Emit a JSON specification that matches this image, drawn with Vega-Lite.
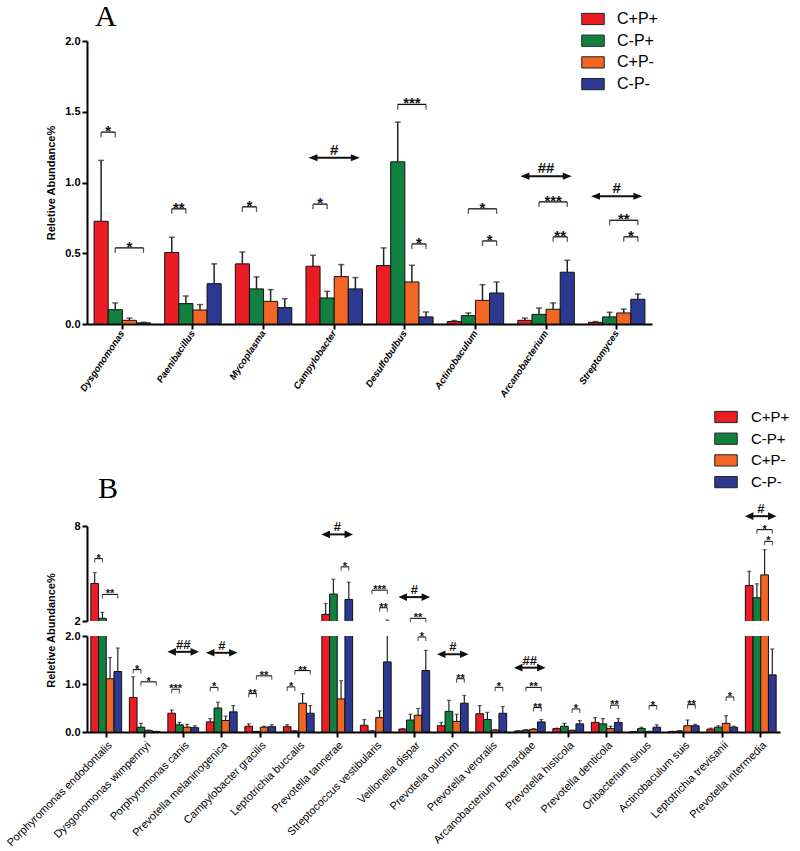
{
  "$schema": "https://vega.github.io/schema/vega-lite/v6.json",
  "padding": {"left": 4, "top": 2, "right": 5, "bottom": 3},
  "background": "white",
  "config": {
    "view": {"stroke": null},
    "font": "Liberation Sans",
    "axis": {"domainColor": "black", "domainWidth": 2, "tickColor": "black", "tickWidth": 2, "tickSize": 5, "labelColor": "black", "labelFont": "Liberation Sans", "labelFontWeight": "bold", "labelFontSize": 11, "titleFont": "Liberation Sans", "titleFontWeight": "bold", "titleFontSize": 11, "titleColor": "black", "grid": false},
    "legend": {"title": null, "orient": "none", "padding": 0, "labelFont": "Liberation Sans", "labelColor": "black", "symbolType": "M-1,-0.5H1V0.5H-1Z", "symbolSize": 506, "symbolStrokeColor": "#222", "symbolStrokeWidth": 1, "symbolOpacity": 1}
  },
  "datasets": {
    "a": [
      {"species": "Dysgonomonas", "group": "C+P+", "mean": 0.726, "upper": 1.156},
      {"species": "Dysgonomonas", "group": "C-P+", "mean": 0.101, "upper": 0.149},
      {"species": "Dysgonomonas", "group": "C+P-", "mean": 0.026, "upper": 0.042},
      {"species": "Dysgonomonas", "group": "C-P-", "mean": 0.008, "upper": 0.012},
      {"species": "Paenibacillus", "group": "C+P+", "mean": 0.505, "upper": 0.613},
      {"species": "Paenibacillus", "group": "C-P+", "mean": 0.144, "upper": 0.198},
      {"species": "Paenibacillus", "group": "C+P-", "mean": 0.099, "upper": 0.137},
      {"species": "Paenibacillus", "group": "C-P-", "mean": 0.285, "upper": 0.425},
      {"species": "Mycoplasma", "group": "C+P+", "mean": 0.425, "upper": 0.509},
      {"species": "Mycoplasma", "group": "C-P+", "mean": 0.248, "upper": 0.333},
      {"species": "Mycoplasma", "group": "C+P-", "mean": 0.160, "upper": 0.243},
      {"species": "Mycoplasma", "group": "C-P-", "mean": 0.116, "upper": 0.179},
      {"species": "Campylobacter", "group": "C+P+", "mean": 0.408, "upper": 0.486},
      {"species": "Campylobacter", "group": "C-P+", "mean": 0.184, "upper": 0.231},
      {"species": "Campylobacter", "group": "C+P-", "mean": 0.335, "upper": 0.420},
      {"species": "Campylobacter", "group": "C-P-", "mean": 0.248, "upper": 0.328},
      {"species": "Desulfobulbus", "group": "C+P+", "mean": 0.413, "upper": 0.538},
      {"species": "Desulfobulbus", "group": "C-P+", "mean": 1.146, "upper": 1.427},
      {"species": "Desulfobulbus", "group": "C+P-", "mean": 0.297, "upper": 0.415},
      {"species": "Desulfobulbus", "group": "C-P-", "mean": 0.050, "upper": 0.085},
      {"species": "Actinobaculum", "group": "C+P+", "mean": 0.017, "upper": 0.024},
      {"species": "Actinobaculum", "group": "C-P+", "mean": 0.059, "upper": 0.078},
      {"species": "Actinobaculum", "group": "C+P-", "mean": 0.167, "upper": 0.278},
      {"species": "Actinobaculum", "group": "C-P-", "mean": 0.219, "upper": 0.297},
      {"species": "Arcanobacterium", "group": "C+P+", "mean": 0.026, "upper": 0.042},
      {"species": "Arcanobacterium", "group": "C-P+", "mean": 0.068, "upper": 0.113},
      {"species": "Arcanobacterium", "group": "C+P-", "mean": 0.104, "upper": 0.149},
      {"species": "Arcanobacterium", "group": "C-P-", "mean": 0.366, "upper": 0.450},
      {"species": "Streptomyces", "group": "C+P+", "mean": 0.012, "upper": 0.017},
      {"species": "Streptomyces", "group": "C-P+", "mean": 0.050, "upper": 0.083},
      {"species": "Streptomyces", "group": "C+P-", "mean": 0.078, "upper": 0.106},
      {"species": "Streptomyces", "group": "C-P-", "mean": 0.175, "upper": 0.212}
    ],
    "aBr": [
      {"id": "a1", "species": "Dysgonomonas", "s1": 0, "s2": 1, "y": 1.356, "label": "*"},
      {"id": "a2", "species": "Dysgonomonas", "s1": 1, "s2": 3, "y": 0.538, "label": "*"},
      {"id": "a3", "species": "Paenibacillus", "s1": 0, "s2": 1, "y": 0.814, "label": "**"},
      {"id": "a4", "species": "Mycoplasma", "s1": 0, "s2": 1, "y": 0.828, "label": "*"},
      {"id": "a5", "species": "Campylobacter", "s1": 0, "s2": 1, "y": 0.847, "label": "*"},
      {"id": "a6", "species": "Desulfobulbus", "s1": 1, "s2": 3, "y": 1.552, "label": "***"},
      {"id": "a7", "species": "Desulfobulbus", "s1": 2, "s2": 3, "y": 0.566, "label": "*"},
      {"id": "a8", "species": "Actinobaculum", "s1": 1, "s2": 3, "y": 0.814, "label": "*"},
      {"id": "a9", "species": "Actinobaculum", "s1": 2, "s2": 3, "y": 0.587, "label": "*"},
      {"id": "a10", "species": "Arcanobacterium", "s1": 1, "s2": 3, "y": 0.863, "label": "***"},
      {"id": "a11", "species": "Arcanobacterium", "s1": 2, "s2": 3, "y": 0.616, "label": "**"},
      {"id": "a12", "species": "Streptomyces", "s1": 1, "s2": 3, "y": 0.733, "label": "**"},
      {"id": "a13", "species": "Streptomyces", "s1": 2, "s2": 3, "y": 0.616, "label": "*"}
    ],
    "aAr": [
      {"id": "r1", "species": "Campylobacter", "s1": 0, "s2": 3, "y": 1.175, "label": "#"},
      {"id": "r2", "species": "Arcanobacterium", "s1": 0, "s2": 3, "y": 1.045, "label": "##"},
      {"id": "r3", "species": "Streptomyces", "s1": 0, "s2": 3, "y": 0.903, "label": "#"}
    ],
    "b": [
      {"species": "Porphyromonas endodontalis", "group": "C+P+", "mean": 4.37, "upper": 5.06},
      {"species": "Porphyromonas endodontalis", "group": "C-P+", "mean": 2.17, "upper": 2.55},
      {"species": "Porphyromonas endodontalis", "group": "C+P-", "mean": 1.11, "upper": 1.55},
      {"species": "Porphyromonas endodontalis", "group": "C-P-", "mean": 1.26, "upper": 1.75},
      {"species": "Dysgonomonas wimpennyi", "group": "C+P+", "mean": 0.72, "upper": 1.15},
      {"species": "Dysgonomonas wimpennyi", "group": "C-P+", "mean": 0.10, "upper": 0.18},
      {"species": "Dysgonomonas wimpennyi", "group": "C+P-", "mean": 0.03, "upper": 0.04},
      {"species": "Dysgonomonas wimpennyi", "group": "C-P-", "mean": 0.01, "upper": 0.015},
      {"species": "Porphyromonas canis", "group": "C+P+", "mean": 0.39, "upper": 0.46},
      {"species": "Porphyromonas canis", "group": "C-P+", "mean": 0.15, "upper": 0.20},
      {"species": "Porphyromonas canis", "group": "C+P-", "mean": 0.10, "upper": 0.16},
      {"species": "Porphyromonas canis", "group": "C-P-", "mean": 0.09, "upper": 0.13},
      {"species": "Prevotella melaninogenica", "group": "C+P+", "mean": 0.21, "upper": 0.28},
      {"species": "Prevotella melaninogenica", "group": "C-P+", "mean": 0.50, "upper": 0.62},
      {"species": "Prevotella melaninogenica", "group": "C+P-", "mean": 0.24, "upper": 0.33},
      {"species": "Prevotella melaninogenica", "group": "C-P-", "mean": 0.42, "upper": 0.55},
      {"species": "Campylobacter gracilis", "group": "C+P+", "mean": 0.12, "upper": 0.17},
      {"species": "Campylobacter gracilis", "group": "C-P+", "mean": 0.01, "upper": 0.015},
      {"species": "Campylobacter gracilis", "group": "C+P-", "mean": 0.10, "upper": 0.12},
      {"species": "Campylobacter gracilis", "group": "C-P-", "mean": 0.11, "upper": 0.15},
      {"species": "Leptotrichia buccalis", "group": "C+P+", "mean": 0.11, "upper": 0.15},
      {"species": "Leptotrichia buccalis", "group": "C-P+", "mean": 0.02, "upper": 0.03},
      {"species": "Leptotrichia buccalis", "group": "C+P-", "mean": 0.60, "upper": 0.80},
      {"species": "Leptotrichia buccalis", "group": "C-P-", "mean": 0.39, "upper": 0.55},
      {"species": "Prevotella tannerae", "group": "C+P+", "mean": 2.42, "upper": 3.11},
      {"species": "Prevotella tannerae", "group": "C-P+", "mean": 3.70, "upper": 4.64},
      {"species": "Prevotella tannerae", "group": "C+P-", "mean": 0.69, "upper": 1.07},
      {"species": "Prevotella tannerae", "group": "C-P-", "mean": 3.36, "upper": 4.45},
      {"species": "Streptococcus vestibularis", "group": "C+P+", "mean": 0.14, "upper": 0.26},
      {"species": "Streptococcus vestibularis", "group": "C-P+", "mean": 0.02, "upper": 0.03},
      {"species": "Streptococcus vestibularis", "group": "C+P-", "mean": 0.30, "upper": 0.44},
      {"species": "Streptococcus vestibularis", "group": "C-P-", "mean": 1.46, "upper": 2.06},
      {"species": "Veillonella dispar", "group": "C+P+", "mean": 0.06, "upper": 0.07},
      {"species": "Veillonella dispar", "group": "C-P+", "mean": 0.25, "upper": 0.37},
      {"species": "Veillonella dispar", "group": "C+P-", "mean": 0.35, "upper": 0.49},
      {"species": "Veillonella dispar", "group": "C-P-", "mean": 1.28, "upper": 1.70},
      {"species": "Prevotella oulorum", "group": "C+P+", "mean": 0.13, "upper": 0.20},
      {"species": "Prevotella oulorum", "group": "C-P+", "mean": 0.43, "upper": 0.66},
      {"species": "Prevotella oulorum", "group": "C+P-", "mean": 0.22, "upper": 0.37},
      {"species": "Prevotella oulorum", "group": "C-P-", "mean": 0.60, "upper": 0.76},
      {"species": "Prevotella veroralis", "group": "C+P+", "mean": 0.38, "upper": 0.55},
      {"species": "Prevotella veroralis", "group": "C-P+", "mean": 0.26, "upper": 0.41},
      {"species": "Prevotella veroralis", "group": "C+P-", "mean": 0.04, "upper": 0.05},
      {"species": "Prevotella veroralis", "group": "C-P-", "mean": 0.39, "upper": 0.53},
      {"species": "Arcanobacterium bernardiae", "group": "C+P+", "mean": 0.02, "upper": 0.025},
      {"species": "Arcanobacterium bernardiae", "group": "C-P+", "mean": 0.04, "upper": 0.05},
      {"species": "Arcanobacterium bernardiae", "group": "C+P-", "mean": 0.055, "upper": 0.07},
      {"species": "Arcanobacterium bernardiae", "group": "C-P-", "mean": 0.21, "upper": 0.26},
      {"species": "Prevotella histicola", "group": "C+P+", "mean": 0.07, "upper": 0.08},
      {"species": "Prevotella histicola", "group": "C-P+", "mean": 0.12, "upper": 0.18},
      {"species": "Prevotella histicola", "group": "C+P-", "mean": 0.03, "upper": 0.04},
      {"species": "Prevotella histicola", "group": "C-P-", "mean": 0.17, "upper": 0.24},
      {"species": "Prevotella denticola", "group": "C+P+", "mean": 0.20, "upper": 0.30},
      {"species": "Prevotella denticola", "group": "C-P+", "mean": 0.17, "upper": 0.28},
      {"species": "Prevotella denticola", "group": "C+P-", "mean": 0.07, "upper": 0.12},
      {"species": "Prevotella denticola", "group": "C-P-", "mean": 0.20, "upper": 0.28},
      {"species": "Oribacterium sinus", "group": "C+P+", "mean": 0.005, "upper": 0.01},
      {"species": "Oribacterium sinus", "group": "C-P+", "mean": 0.07, "upper": 0.10},
      {"species": "Oribacterium sinus", "group": "C+P-", "mean": 0.01, "upper": 0.015},
      {"species": "Oribacterium sinus", "group": "C-P-", "mean": 0.10, "upper": 0.15},
      {"species": "Actinobaculum suis", "group": "C+P+", "mean": 0.01, "upper": 0.015},
      {"species": "Actinobaculum suis", "group": "C-P+", "mean": 0.02, "upper": 0.03},
      {"species": "Actinobaculum suis", "group": "C+P-", "mean": 0.13, "upper": 0.25},
      {"species": "Actinobaculum suis", "group": "C-P-", "mean": 0.13, "upper": 0.16},
      {"species": "Leptotrichia trevisanii", "group": "C+P+", "mean": 0.06, "upper": 0.08},
      {"species": "Leptotrichia trevisanii", "group": "C-P+", "mean": 0.10, "upper": 0.13},
      {"species": "Leptotrichia trevisanii", "group": "C+P-", "mean": 0.18, "upper": 0.34},
      {"species": "Leptotrichia trevisanii", "group": "C-P-", "mean": 0.10, "upper": 0.12},
      {"species": "Prevotella intermedia", "group": "C+P+", "mean": 4.24, "upper": 5.14},
      {"species": "Prevotella intermedia", "group": "C-P+", "mean": 3.47, "upper": 4.35},
      {"species": "Prevotella intermedia", "group": "C+P-", "mean": 4.91, "upper": 6.50},
      {"species": "Prevotella intermedia", "group": "C-P-", "mean": 1.19, "upper": 1.73}
    ],
    "bBr": [
      {"id": "b1", "species": "Porphyromonas endodontalis", "s1": 0, "s2": 1, "y": 5.94, "label": "*"},
      {"id": "b2", "species": "Porphyromonas endodontalis", "s1": 1, "s2": 3, "y": 3.68, "label": "**"},
      {"id": "b3", "species": "Dysgonomonas wimpennyi", "s1": 0, "s2": 1, "y": 1.30, "label": "*"},
      {"id": "b4", "species": "Dysgonomonas wimpennyi", "s1": 1, "s2": 3, "y": 1.045, "label": "*"},
      {"id": "b5", "species": "Porphyromonas canis", "s1": 0, "s2": 1, "y": 0.89, "label": "***"},
      {"id": "b6", "species": "Prevotella melaninogenica", "s1": 0, "s2": 1, "y": 0.93, "label": "*"},
      {"id": "b7", "species": "Campylobacter gracilis", "s1": 0, "s2": 1, "y": 0.80, "label": "**"},
      {"id": "b8", "species": "Campylobacter gracilis", "s1": 1, "s2": 3, "y": 1.17, "label": "**"},
      {"id": "b9", "species": "Leptotrichia buccalis", "s1": 0, "s2": 1, "y": 0.94, "label": "*"},
      {"id": "b10", "species": "Leptotrichia buccalis", "s1": 1, "s2": 3, "y": 1.28, "label": "**"},
      {"id": "b11", "species": "Prevotella tannerae", "s1": 2, "s2": 3, "y": 5.42, "label": "*"},
      {"id": "b12", "species": "Streptococcus vestibularis", "s1": 1, "s2": 3, "y": 3.95, "label": "***"},
      {"id": "b13", "species": "Streptococcus vestibularis", "s1": 2, "s2": 3, "y": 2.84, "label": "**"},
      {"id": "b14", "species": "Veillonella dispar", "s1": 1, "s2": 3, "y": 2.17, "label": "**"},
      {"id": "b15", "species": "Veillonella dispar", "s1": 2, "s2": 3, "y": 1.98, "label": "*"},
      {"id": "b16", "species": "Prevotella oulorum", "s1": 2, "s2": 3, "y": 1.11, "label": "**"},
      {"id": "b17", "species": "Prevotella veroralis", "s1": 2, "s2": 3, "y": 0.93, "label": "*"},
      {"id": "b18", "species": "Arcanobacterium bernardiae", "s1": 1, "s2": 3, "y": 0.93, "label": "**"},
      {"id": "b19", "species": "Arcanobacterium bernardiae", "s1": 2, "s2": 3, "y": 0.51, "label": "**"},
      {"id": "b20", "species": "Prevotella histicola", "s1": 2, "s2": 3, "y": 0.48, "label": "*"},
      {"id": "b21", "species": "Prevotella denticola", "s1": 2, "s2": 3, "y": 0.56, "label": "**"},
      {"id": "b22", "species": "Oribacterium sinus", "s1": 2, "s2": 3, "y": 0.55, "label": "*"},
      {"id": "b23", "species": "Actinobaculum suis", "s1": 2, "s2": 3, "y": 0.57, "label": "**"},
      {"id": "b24", "species": "Leptotrichia trevisanii", "s1": 2, "s2": 3, "y": 0.73, "label": "*"},
      {"id": "b25", "species": "Prevotella intermedia", "s1": 1, "s2": 3, "y": 7.77, "label": "*"},
      {"id": "b26", "species": "Prevotella intermedia", "s1": 2, "s2": 3, "y": 7.03, "label": "*"}
    ],
    "bAr": [
      {"id": "q1", "species": "Porphyromonas canis", "s1": 0, "s2": 3, "y": 1.67, "label": "##"},
      {"id": "q2", "species": "Prevotella melaninogenica", "s1": 0, "s2": 3, "y": 1.65, "label": "#"},
      {"id": "q3", "species": "Prevotella tannerae", "s1": 0, "s2": 3, "y": 7.47, "label": "#"},
      {"id": "q4", "species": "Veillonella dispar", "s1": 0, "s2": 3, "y": 3.51, "label": "#"},
      {"id": "q5", "species": "Prevotella oulorum", "s1": 0, "s2": 3, "y": 1.62, "label": "#"},
      {"id": "q6", "species": "Arcanobacterium bernardiae", "s1": 0, "s2": 3, "y": 1.34, "label": "##"},
      {"id": "q7", "species": "Prevotella intermedia", "s1": 0, "s2": 3, "y": 8.62, "label": "#"}
    ]
  },
  "vconcat": [
    {
      "width": 565,
      "height": 283,
      "title": {"text": "A", "font": "Liberation Serif", "fontSize": 30, "fontWeight": "normal", "color": "black", "anchor": "start", "frame": "group", "dx": 8, "offset": 8, "dy": 33},
      "resolve": {"scale": {"xOffset": "independent"}},
      "layer": [
        {
          "data": {"name": "a"},
          "mark": {"type": "bar", "stroke": "#111", "strokeWidth": 1},
          "encoding": {
            "x": {"field": "species", "type": "nominal", "scale": {"domain": ["Dysgonomonas", "Paenibacillus", "Mycoplasma", "Campylobacter", "Desulfobulbus", "Actinobaculum", "Arcanobacterium", "Streptomyces"], "paddingInner": 0.2, "paddingOuter": 0.1}, "axis": {"title": null, "labelAngle": -56, "labelFontStyle": "italic", "labelFontSize": 9.5, "labelPadding": 2}},
            "xOffset": {"field": "group", "type": "nominal", "scale": {"domain": ["C+P+", "C-P+", "C+P-", "C-P-"], "paddingInner": 0, "paddingOuter": 0}},
            "y": {"field": "mean", "type": "quantitative", "scale": {"domain": [0, 2], "nice": false}, "axis": {"values": [0, 0.5, 1, 1.5, 2], "format": ".1f", "title": "Reletive Abundance%", "titlePadding": 8}},
            "color": {"field": "group", "type": "nominal", "scale": {"domain": ["C+P+", "C-P+", "C+P-", "C-P-"], "range": ["#EC1C24", "#12803E", "#F26522", "#2B3990"]}, "legend": {"legendX": 494, "legendY": -34, "labelFontSize": 16, "labelOffset": 12, "rowPadding": 1.7}}
          }
        },
        {
          "data": {"name": "a"},
          "mark": {"type": "rule", "color": "#222", "strokeWidth": 1.5},
          "encoding": {
            "x": {"field": "species", "type": "nominal"},
            "xOffset": {"field": "group", "type": "nominal", "scale": {"domain": ["C+P+", "C-P+", "C+P-", "C-P-"], "paddingInner": 0, "paddingOuter": 0}},
            "y": {"field": "mean", "type": "quantitative"},
            "y2": {"field": "upper"}
          }
        },
        {
          "data": {"name": "a"},
          "mark": {"type": "tick", "color": "#222", "thickness": 1.5, "size": 6},
          "encoding": {
            "x": {"field": "species", "type": "nominal"},
            "xOffset": {"field": "group", "type": "nominal", "scale": {"domain": ["C+P+", "C-P+", "C+P-", "C-P-"], "paddingInner": 0, "paddingOuter": 0}},
            "y": {"field": "upper", "type": "quantitative"}
          }
        },
        {
          "mark": {"type": "rule", "color": "#555", "strokeDash": [2, 2], "strokeWidth": 1, "xOffset": -7},
          "encoding": {
            "x": {"datum": "Desulfobulbus", "type": "nominal", "bandPosition": 0},
            "y": {"datum": 1.757, "type": "quantitative"},
            "y2": {"datum": 0}
          }
        },
        {
          "data": {"name": "aBr"},
          "transform": [{"fold": ["s1", "s2"], "as": ["end", "slot"]}],
          "mark": {"type": "line", "color": "#111", "strokeWidth": 1.3},
          "encoding": {
            "x": {"field": "species", "type": "nominal"},
            "xOffset": {"field": "slot", "type": "quantitative", "scale": {"domain": [-0.5, 3.5], "range": [0, 56.5]}},
            "y": {"field": "y", "type": "quantitative"},
            "detail": {"field": "id"}
          }
        },
        {
          "data": {"name": "aBr"},
          "transform": [{"fold": ["s1", "s2"], "as": ["end", "slot"]}],
          "mark": {"type": "tick", "orient": "vertical", "color": "#111", "thickness": 1.3, "size": 5, "yOffset": 2.5},
          "encoding": {
            "x": {"field": "species", "type": "nominal"},
            "xOffset": {"field": "slot", "type": "quantitative", "scale": {"domain": [-0.5, 3.5], "range": [0, 56.5]}},
            "y": {"field": "y", "type": "quantitative"}
          }
        },
        {
          "data": {"name": "aBr"},
          "transform": [{"fold": ["s1", "s2"], "as": ["end", "slot"]}, {"aggregate": [{"op": "mean", "field": "slot", "as": "mid"}], "groupby": ["id", "species", "y", "label"]}],
          "mark": {"type": "text", "fontSize": 15, "fontWeight": "bold", "baseline": "alphabetic", "dy": 4, "color": "#111"},
          "encoding": {
            "x": {"field": "species", "type": "nominal"},
            "xOffset": {"field": "mid", "type": "quantitative", "scale": {"domain": [-0.5, 3.5], "range": [0, 56.5]}},
            "y": {"field": "y", "type": "quantitative"},
            "text": {"field": "label"}
          }
        },
        {
          "data": {"name": "aAr"},
          "transform": [{"fold": ["s1", "s2"], "as": ["end", "slot"]}],
          "mark": {"type": "line", "color": "#111", "strokeWidth": 2},
          "encoding": {
            "x": {"field": "species", "type": "nominal"},
            "xOffset": {"field": "slot", "type": "quantitative", "scale": {"domain": [-0.5, 3.5], "range": [0, 56.5]}},
            "y": {"field": "y", "type": "quantitative"},
            "detail": {"field": "id"}
          }
        },
        {
          "data": {"name": "aAr"},
          "mark": {"type": "point", "filled": true, "opacity": 1, "color": "#111", "shape": "M-1,0L1,-0.8L1,0.8Z", "size": 81, "xOffset": 4.5},
          "encoding": {
            "x": {"field": "species", "type": "nominal"},
            "xOffset": {"field": "s1", "type": "quantitative", "scale": {"domain": [-0.5, 3.5], "range": [0, 56.5]}},
            "y": {"field": "y", "type": "quantitative"}
          }
        },
        {
          "data": {"name": "aAr"},
          "mark": {"type": "point", "filled": true, "opacity": 1, "color": "#111", "shape": "M1,0L-1,-0.8L-1,0.8Z", "size": 81, "xOffset": -4.5},
          "encoding": {
            "x": {"field": "species", "type": "nominal"},
            "xOffset": {"field": "s2", "type": "quantitative", "scale": {"domain": [-0.5, 3.5], "range": [0, 56.5]}},
            "y": {"field": "y", "type": "quantitative"}
          }
        },
        {
          "data": {"name": "aAr"},
          "transform": [{"fold": ["s1", "s2"], "as": ["end", "slot"]}, {"aggregate": [{"op": "mean", "field": "slot", "as": "mid"}], "groupby": ["id", "species", "y", "label"]}],
          "mark": {"type": "text", "fontSize": 15, "fontWeight": "bold", "baseline": "alphabetic", "dy": -3, "color": "#111"},
          "encoding": {
            "x": {"field": "species", "type": "nominal"},
            "xOffset": {"field": "mid", "type": "quantitative", "scale": {"domain": [-0.5, 3.5], "range": [0, 56.5]}},
            "y": {"field": "y", "type": "quantitative"},
            "text": {"field": "label"}
          }
        }
      ]
    },
    {
      "vconcat": [
        {
          "width": 693,
          "height": 95,
          "title": {"text": "B", "font": "Liberation Serif", "fontSize": 30, "fontWeight": "normal", "color": "black", "anchor": "start", "frame": "group", "dx": 11, "offset": 24, "dy": 123},
          "resolve": {"scale": {"xOffset": "independent"}},
          "layer": [
            {
              "data": {"name": "b"},
              "mark": {"type": "bar", "stroke": "#111", "strokeWidth": 1, "clip": true},
              "encoding": {
                "x": {"field": "species", "type": "nominal", "scale": {"domain": ["Porphyromonas endodontalis", "Dysgonomonas wimpennyi", "Porphyromonas canis", "Prevotella melaninogenica", "Campylobacter gracilis", "Leptotrichia buccalis", "Prevotella tannerae", "Streptococcus vestibularis", "Veillonella dispar", "Prevotella oulorum", "Prevotella veroralis", "Arcanobacterium bernardiae", "Prevotella histicola", "Prevotella denticola", "Oribacterium sinus", "Actinobaculum suis", "Leptotrichia trevisanii", "Prevotella intermedia"], "paddingInner": 0.2, "paddingOuter": 0.1}, "axis": null},
                "xOffset": {"field": "group", "type": "nominal", "scale": {"domain": ["C+P+", "C-P+", "C+P-", "C-P-"], "paddingInner": 0, "paddingOuter": 0}},
                "y": {"field": "mean", "type": "quantitative", "scale": {"domain": [2, 8], "nice": false}, "axis": {"values": [2, 4, 6, 8], "format": "d", "title": null}},
                "color": {"field": "group", "type": "nominal", "scale": {"domain": ["C+P+", "C-P+", "C+P-", "C-P-"], "range": ["#EC1C24", "#12803E", "#F26522", "#2B3990"]}, "legend": {"legendX": 627, "legendY": -121, "labelFontSize": 15, "labelOffset": 13, "rowPadding": 1.7}}
              }
            },
            {
              "data": {"name": "b"},
              "mark": {"type": "rule", "color": "#222", "strokeWidth": 1.2, "clip": true},
              "encoding": {
                "x": {"field": "species", "type": "nominal"},
                "xOffset": {"field": "group", "type": "nominal", "scale": {"domain": ["C+P+", "C-P+", "C+P-", "C-P-"], "paddingInner": 0, "paddingOuter": 0}},
                "y": {"field": "mean", "type": "quantitative"},
                "y2": {"field": "upper"}
              }
            },
            {
              "data": {"name": "b"},
              "mark": {"type": "tick", "color": "#222", "thickness": 1.2, "size": 4, "clip": true},
              "encoding": {
                "x": {"field": "species", "type": "nominal"},
                "xOffset": {"field": "group", "type": "nominal", "scale": {"domain": ["C+P+", "C-P+", "C+P-", "C-P-"], "paddingInner": 0, "paddingOuter": 0}},
                "y": {"field": "upper", "type": "quantitative"}
              }
            },
            {
              "mark": {"type": "rule", "color": "#555", "strokeDash": [2, 2], "strokeWidth": 1, "xOffset": -3.8},
              "encoding": {
                "x": {"datum": "Prevotella tannerae", "type": "nominal", "bandPosition": 0},
                "y": {"datum": 8.5, "type": "quantitative"},
                "y2": {"datum": 1.06}
              }
            },
            {
              "data": {"name": "bBr"},
              "transform": [{"filter": "datum.y > 2"}, {"fold": ["s1", "s2"], "as": ["end", "slot"]}],
              "mark": {"type": "line", "color": "#111", "strokeWidth": 1.1},
              "encoding": {
                "x": {"field": "species", "type": "nominal"},
                "xOffset": {"field": "slot", "type": "quantitative", "scale": {"domain": [-0.5, 3.5], "range": [0, 30.8]}},
                "y": {"field": "y", "type": "quantitative"},
                "detail": {"field": "id"}
              }
            },
            {
              "data": {"name": "bBr"},
              "transform": [{"filter": "datum.y > 2"}, {"fold": ["s1", "s2"], "as": ["end", "slot"]}],
              "mark": {"type": "tick", "orient": "vertical", "color": "#111", "thickness": 1.1, "size": 4, "yOffset": 2},
              "encoding": {
                "x": {"field": "species", "type": "nominal"},
                "xOffset": {"field": "slot", "type": "quantitative", "scale": {"domain": [-0.5, 3.5], "range": [0, 30.8]}},
                "y": {"field": "y", "type": "quantitative"}
              }
            },
            {
              "data": {"name": "bBr"},
              "transform": [{"filter": "datum.y > 2"}, {"fold": ["s1", "s2"], "as": ["end", "slot"]}, {"aggregate": [{"op": "mean", "field": "slot", "as": "mid"}], "groupby": ["id", "species", "y", "label"]}],
              "mark": {"type": "text", "fontSize": 11, "fontWeight": "bold", "baseline": "alphabetic", "dy": 3, "color": "#111"},
              "encoding": {
                "x": {"field": "species", "type": "nominal"},
                "xOffset": {"field": "mid", "type": "quantitative", "scale": {"domain": [-0.5, 3.5], "range": [0, 30.8]}},
                "y": {"field": "y", "type": "quantitative"},
                "text": {"field": "label"}
              }
            },
            {
              "data": {"name": "bAr"},
              "transform": [{"filter": "datum.y > 2"}, {"fold": ["s1", "s2"], "as": ["end", "slot"]}],
              "mark": {"type": "line", "color": "#111", "strokeWidth": 2},
              "encoding": {
                "x": {"field": "species", "type": "nominal"},
                "xOffset": {"field": "slot", "type": "quantitative", "scale": {"domain": [-0.5, 3.5], "range": [0, 30.8]}},
                "y": {"field": "y", "type": "quantitative"},
                "detail": {"field": "id"}
              }
            },
            {
              "data": {"name": "bAr"},
              "transform": [{"filter": "datum.y > 2"}],
              "mark": {"type": "point", "filled": true, "opacity": 1, "color": "#111", "shape": "M-1,0L1,-0.9L1,0.9Z", "size": 72, "xOffset": 4.2},
              "encoding": {
                "x": {"field": "species", "type": "nominal"},
                "xOffset": {"field": "s1", "type": "quantitative", "scale": {"domain": [-0.5, 3.5], "range": [0, 30.8]}},
                "y": {"field": "y", "type": "quantitative"}
              }
            },
            {
              "data": {"name": "bAr"},
              "transform": [{"filter": "datum.y > 2"}],
              "mark": {"type": "point", "filled": true, "opacity": 1, "color": "#111", "shape": "M1,0L-1,-0.9L-1,0.9Z", "size": 72, "xOffset": -4.2},
              "encoding": {
                "x": {"field": "species", "type": "nominal"},
                "xOffset": {"field": "s2", "type": "quantitative", "scale": {"domain": [-0.5, 3.5], "range": [0, 30.8]}},
                "y": {"field": "y", "type": "quantitative"}
              }
            },
            {
              "data": {"name": "bAr"},
              "transform": [{"filter": "datum.y > 2"}, {"fold": ["s1", "s2"], "as": ["end", "slot"]}, {"aggregate": [{"op": "mean", "field": "slot", "as": "mid"}], "groupby": ["id", "species", "y", "label"]}],
              "mark": {"type": "text", "fontSize": 13, "fontWeight": "bold", "baseline": "alphabetic", "dy": -3, "color": "#111"},
              "encoding": {
                "x": {"field": "species", "type": "nominal"},
                "xOffset": {"field": "mid", "type": "quantitative", "scale": {"domain": [-0.5, 3.5], "range": [0, 30.8]}},
                "y": {"field": "y", "type": "quantitative"},
                "text": {"field": "label"}
              }
            }
          ]
        },
        {
          "width": 693,
          "height": 96,
          "resolve": {"scale": {"xOffset": "independent"}},
          "layer": [
            {
              "data": {"name": "b"},
              "mark": {"type": "bar", "stroke": "#111", "strokeWidth": 1, "clip": true},
              "encoding": {
                "x": {"field": "species", "type": "nominal", "scale": {"domain": ["Porphyromonas endodontalis", "Dysgonomonas wimpennyi", "Porphyromonas canis", "Prevotella melaninogenica", "Campylobacter gracilis", "Leptotrichia buccalis", "Prevotella tannerae", "Streptococcus vestibularis", "Veillonella dispar", "Prevotella oulorum", "Prevotella veroralis", "Arcanobacterium bernardiae", "Prevotella histicola", "Prevotella denticola", "Oribacterium sinus", "Actinobaculum suis", "Leptotrichia trevisanii", "Prevotella intermedia"], "paddingInner": 0.2, "paddingOuter": 0.1}, "axis": {"title": null, "labelAngle": -45, "labelFontSize": 11, "labelFontWeight": "normal", "labelPadding": 2}},
                "xOffset": {"field": "group", "type": "nominal", "scale": {"domain": ["C+P+", "C-P+", "C+P-", "C-P-"], "paddingInner": 0, "paddingOuter": 0}},
                "y": {"field": "mean", "type": "quantitative", "scale": {"domain": [0, 2], "nice": false}, "axis": {"values": [0, 0.5, 1, 1.5, 2], "format": ".1f", "title": "Reletive Abundance%", "titleY": -6, "titlePadding": 8}},
                "color": {"field": "group", "type": "nominal", "scale": {"domain": ["C+P+", "C-P+", "C+P-", "C-P-"], "range": ["#EC1C24", "#12803E", "#F26522", "#2B3990"]}, "legend": null}
              }
            },
            {
              "data": {"name": "b"},
              "mark": {"type": "rule", "color": "#222", "strokeWidth": 1.2, "clip": true},
              "encoding": {
                "x": {"field": "species", "type": "nominal"},
                "xOffset": {"field": "group", "type": "nominal", "scale": {"domain": ["C+P+", "C-P+", "C+P-", "C-P-"], "paddingInner": 0, "paddingOuter": 0}},
                "y": {"field": "mean", "type": "quantitative"},
                "y2": {"field": "upper"}
              }
            },
            {
              "data": {"name": "b"},
              "mark": {"type": "tick", "color": "#222", "thickness": 1.2, "size": 4, "clip": true},
              "encoding": {
                "x": {"field": "species", "type": "nominal"},
                "xOffset": {"field": "group", "type": "nominal", "scale": {"domain": ["C+P+", "C-P+", "C+P-", "C-P-"], "paddingInner": 0, "paddingOuter": 0}},
                "y": {"field": "upper", "type": "quantitative"}
              }
            },
            {
              "mark": {"type": "rule", "color": "#555", "strokeDash": [2, 2], "strokeWidth": 1, "xOffset": -3.8},
              "encoding": {
                "x": {"datum": "Prevotella tannerae", "type": "nominal", "bandPosition": 0},
                "y": {"datum": 2, "type": "quantitative"},
                "y2": {"datum": 0}
              }
            },
            {
              "data": {"name": "bBr"},
              "transform": [{"filter": "datum.y <= 2"}, {"fold": ["s1", "s2"], "as": ["end", "slot"]}],
              "mark": {"type": "line", "color": "#111", "strokeWidth": 1.1},
              "encoding": {
                "x": {"field": "species", "type": "nominal"},
                "xOffset": {"field": "slot", "type": "quantitative", "scale": {"domain": [-0.5, 3.5], "range": [0, 30.8]}},
                "y": {"field": "y", "type": "quantitative"},
                "detail": {"field": "id"}
              }
            },
            {
              "data": {"name": "bBr"},
              "transform": [{"filter": "datum.y <= 2"}, {"fold": ["s1", "s2"], "as": ["end", "slot"]}],
              "mark": {"type": "tick", "orient": "vertical", "color": "#111", "thickness": 1.1, "size": 4, "yOffset": 2},
              "encoding": {
                "x": {"field": "species", "type": "nominal"},
                "xOffset": {"field": "slot", "type": "quantitative", "scale": {"domain": [-0.5, 3.5], "range": [0, 30.8]}},
                "y": {"field": "y", "type": "quantitative"}
              }
            },
            {
              "data": {"name": "bBr"},
              "transform": [{"filter": "datum.y <= 2"}, {"fold": ["s1", "s2"], "as": ["end", "slot"]}, {"aggregate": [{"op": "mean", "field": "slot", "as": "mid"}], "groupby": ["id", "species", "y", "label"]}],
              "mark": {"type": "text", "fontSize": 11, "fontWeight": "bold", "baseline": "alphabetic", "dy": 3, "color": "#111"},
              "encoding": {
                "x": {"field": "species", "type": "nominal"},
                "xOffset": {"field": "mid", "type": "quantitative", "scale": {"domain": [-0.5, 3.5], "range": [0, 30.8]}},
                "y": {"field": "y", "type": "quantitative"},
                "text": {"field": "label"}
              }
            },
            {
              "data": {"name": "bAr"},
              "transform": [{"filter": "datum.y <= 2"}, {"fold": ["s1", "s2"], "as": ["end", "slot"]}],
              "mark": {"type": "line", "color": "#111", "strokeWidth": 2},
              "encoding": {
                "x": {"field": "species", "type": "nominal"},
                "xOffset": {"field": "slot", "type": "quantitative", "scale": {"domain": [-0.5, 3.5], "range": [0, 30.8]}},
                "y": {"field": "y", "type": "quantitative"},
                "detail": {"field": "id"}
              }
            },
            {
              "data": {"name": "bAr"},
              "transform": [{"filter": "datum.y <= 2"}],
              "mark": {"type": "point", "filled": true, "opacity": 1, "color": "#111", "shape": "M-1,0L1,-0.9L1,0.9Z", "size": 72, "xOffset": 4.2},
              "encoding": {
                "x": {"field": "species", "type": "nominal"},
                "xOffset": {"field": "s1", "type": "quantitative", "scale": {"domain": [-0.5, 3.5], "range": [0, 30.8]}},
                "y": {"field": "y", "type": "quantitative"}
              }
            },
            {
              "data": {"name": "bAr"},
              "transform": [{"filter": "datum.y <= 2"}],
              "mark": {"type": "point", "filled": true, "opacity": 1, "color": "#111", "shape": "M1,0L-1,-0.9L-1,0.9Z", "size": 72, "xOffset": -4.2},
              "encoding": {
                "x": {"field": "species", "type": "nominal"},
                "xOffset": {"field": "s2", "type": "quantitative", "scale": {"domain": [-0.5, 3.5], "range": [0, 30.8]}},
                "y": {"field": "y", "type": "quantitative"}
              }
            },
            {
              "data": {"name": "bAr"},
              "transform": [{"filter": "datum.y <= 2"}, {"fold": ["s1", "s2"], "as": ["end", "slot"]}, {"aggregate": [{"op": "mean", "field": "slot", "as": "mid"}], "groupby": ["id", "species", "y", "label"]}],
              "mark": {"type": "text", "fontSize": 13, "fontWeight": "bold", "baseline": "alphabetic", "dy": -3, "color": "#111"},
              "encoding": {
                "x": {"field": "species", "type": "nominal"},
                "xOffset": {"field": "mid", "type": "quantitative", "scale": {"domain": [-0.5, 3.5], "range": [0, 30.8]}},
                "y": {"field": "y", "type": "quantitative"},
                "text": {"field": "label"}
              }
            }
          ]
        }
      ],
      "spacing": 15,
      "bounds": "flush",
      "resolve": {"scale": {"color": "independent"}, "legend": {"color": "independent"}}
    }
  ],
  "spacing": 202,
  "bounds": "flush",
  "resolve": {"scale": {"color": "independent"}, "legend": {"color": "independent"}}
}
